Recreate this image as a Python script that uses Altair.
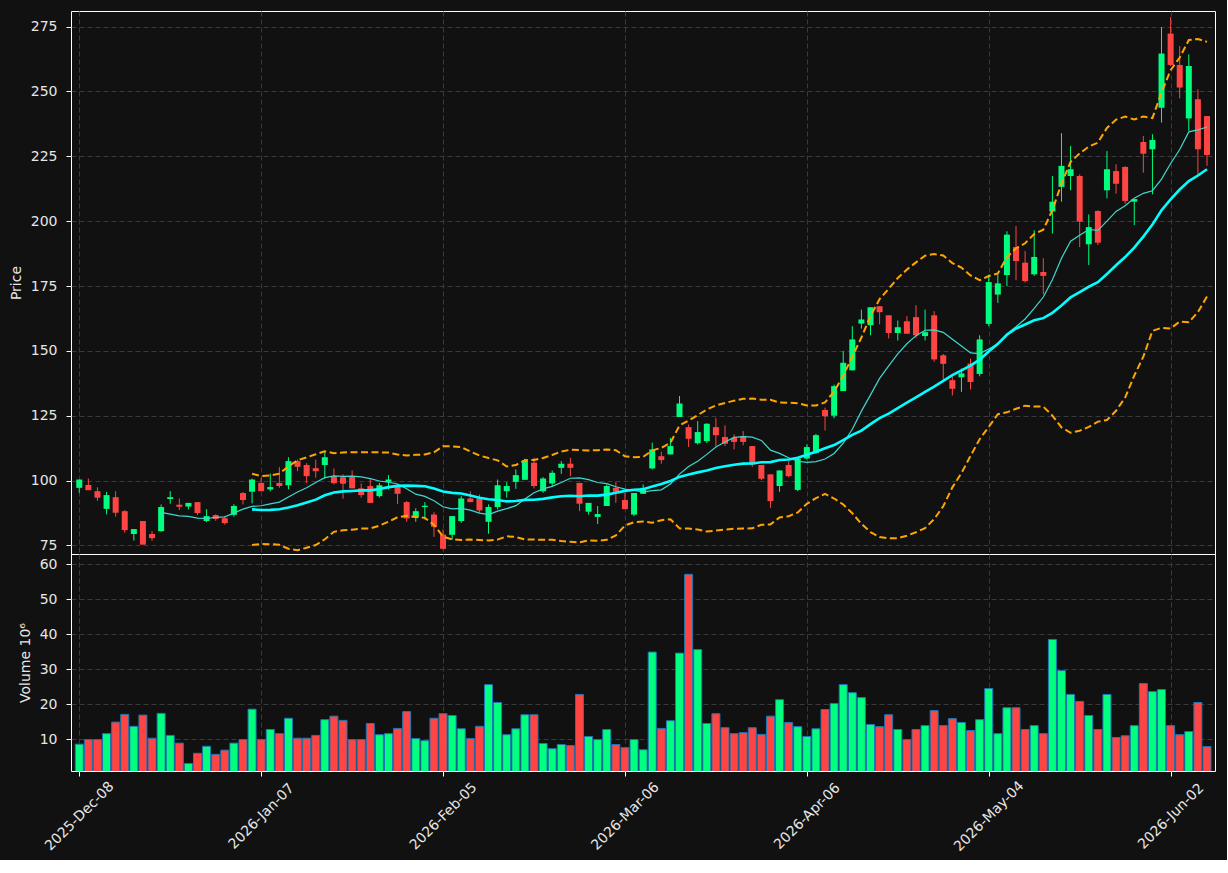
import altair as alt
import pandas as pd

tick_labels = ["2025-Dec-08", "2026-Jan-07", "2026-Feb-05", "2026-Mar-06",
               "2026-Apr-06", "2026-May-04", "2026-Jun-02"]
tick_positions = [0, 20, 40, 60, 80, 100, 120]

opens = [97.2, 98.3, 95.9, 89.1, 93.6, 88.2, 79.4, 84.4, 79.4, 80.5,
         92.9, 90.7, 90.0, 91.7, 84.4, 86.7, 85.5, 86.8, 95.2, 95.7,
         99.1, 96.6, 99.1, 98.2, 107.5, 106.0, 104.8, 106.0, 101.7, 101.3,
         101.7, 97.0, 97.9, 94.0, 99.5, 97.9, 91.7, 85.7, 89.8, 86.9,
         79.2, 79.1, 84.4, 93.1, 93.1, 84.1, 89.8, 95.9, 99.5, 100.3,
         106.9, 95.9, 98.9, 104.9, 106.5, 99.1, 88.0, 86.0, 90.2, 97.2,
         92.5, 86.9, 94.9, 104.7, 109.4, 110.1, 124.5, 120.6, 114.4, 115.2,
         120.6, 116.8, 116.5, 117.1, 113.3, 106.0, 102.4, 97.9, 106.0, 96.4,
         108.5, 110.7, 127.2, 125.0, 134.5, 142.5, 160.5, 159.9, 167.2, 163.7,
         156.9, 161.4, 163.0, 155.7, 163.7, 148.3, 138.7, 139.8, 145.1, 141.1,
         160.4, 171.7, 179.2, 190.0, 184.0, 179.5, 180.4, 203.7, 213.2, 217.4,
         217.4, 191.1, 203.9, 211.9, 219.3, 220.9, 207.5, 230.5, 227.7, 243.7,
         272.3, 260.2, 239.6, 247.0, 240.5]

closes = [100.4, 96.3, 93.4, 94.4, 87.6, 80.9, 81.3, 75.3, 77.8, 89.8,
          93.6, 89.9, 91.4, 87.5, 86.3, 85.2, 83.6, 90.2, 92.5, 100.4,
          95.9, 97.5, 97.9, 107.5, 105.3, 101.7, 103.6, 109.0, 99.0, 98.8,
          97.0, 94.4, 91.4, 98.2, 100.4, 94.9, 85.4, 88.2, 90.3, 82.2,
          73.7, 86.3, 93.1, 91.7, 88.5, 89.8, 98.2, 97.9, 102.1, 107.8,
          97.9, 100.8, 103.0, 106.5, 104.9, 91.1, 91.4, 87.1, 97.9, 95.7,
          89.0, 95.2, 97.2, 112.0, 107.9, 113.3, 129.7, 116.1, 118.7, 121.9,
          117.5, 114.2, 114.9, 114.9, 106.2, 100.7, 92.1, 103.9, 101.7, 108.5,
          112.9, 117.5, 124.8, 136.4, 145.4, 154.4, 162.1, 166.8, 164.9, 156.9,
          159.1, 156.6, 156.0, 157.2, 146.7, 145.0, 135.4, 141.3, 138.0, 154.4,
          176.5, 176.0, 194.8, 184.6, 176.9, 186.2, 178.9, 207.5, 221.3, 220.0,
          199.8, 197.7, 191.7, 220.0, 214.4, 207.8, 208.5, 226.0, 231.3, 264.6,
          260.2, 251.5, 259.8, 227.7, 225.5]

highs = [100.4, 100.8, 97.4, 95.6, 95.9, 88.6, 81.3, 84.4, 80.5, 90.8,
         95.9, 93.1, 91.4, 91.7, 89.0, 87.0, 86.3, 90.9, 95.6, 100.8,
         101.1, 102.7, 105.2, 109.0, 108.1, 106.7, 108.1, 111.1, 104.7, 102.4,
         103.9, 98.9, 100.8, 99.1, 102.1, 98.5, 92.1, 89.3, 91.7, 87.8,
         81.2, 86.3, 94.0, 95.9, 94.6, 90.8, 100.4, 99.4, 104.3, 108.4,
         108.8, 101.3, 103.9, 107.5, 108.8, 99.1, 91.4, 90.2, 98.5, 99.4,
         95.3, 95.2, 98.5, 114.6, 111.1, 116.5, 132.6, 121.6, 122.9, 122.1,
         124.2, 121.3, 117.8, 119.1, 113.3, 106.0, 102.4, 103.9, 107.5, 108.5,
         113.9, 118.0, 128.1, 137.0, 149.9, 159.5, 165.9, 166.8, 167.2, 163.7,
         161.7, 163.4, 167.6, 165.9, 165.3, 148.8, 140.2, 143.2, 147.0, 156.0,
         179.4, 179.7, 196.1, 198.1, 188.5, 196.5, 185.7, 217.4, 233.9, 229.0,
         218.0, 202.6, 204.2, 227.0, 221.9, 221.1, 208.5, 232.8, 233.5, 274.8,
         278.7, 267.5, 264.3, 250.8, 240.5]

lows = [95.3, 96.3, 92.2, 87.0, 86.1, 79.9, 76.9, 75.3, 76.8, 80.3,
        91.1, 88.6, 88.9, 86.7, 84.0, 84.5, 83.0, 86.1, 90.8, 91.2,
        95.9, 95.9, 97.2, 96.6, 103.6, 99.1, 101.1, 100.8, 98.5, 93.0,
        97.0, 93.4, 91.4, 93.4, 96.6, 91.0, 84.1, 84.1, 85.0, 78.3,
        73.4, 77.2, 83.7, 91.7, 87.6, 79.5, 88.9, 93.4, 96.8, 100.3,
        97.0, 95.3, 97.9, 102.6, 101.7, 88.2, 86.9, 83.3, 90.2, 91.4,
        89.0, 86.3, 94.9, 104.3, 106.5, 110.1, 124.5, 112.9, 113.9, 114.5,
        113.3, 113.3, 112.0, 113.6, 105.3, 100.2, 89.5, 95.7, 101.3, 95.9,
        108.1, 110.3, 119.3, 124.0, 134.5, 142.5, 158.6, 156.0, 160.2, 154.8,
        154.0, 156.6, 155.0, 154.0, 145.8, 139.0, 132.8, 134.2, 135.1, 140.2,
        159.5, 168.5, 174.9, 177.2, 176.3, 178.9, 171.8, 195.2, 207.5, 211.9,
        190.0, 183.1, 190.8, 208.8, 210.6, 206.7, 198.5, 218.7, 210.3, 238.0,
        259.8, 247.3, 234.8, 218.0, 221.3]

volumes = [8.6, 9.9, 9.9, 11.6, 14.9, 17.1, 13.7, 16.9, 10.3, 17.4,
           11.1, 8.9, 3.1, 6.0, 8.0, 5.7, 6.9, 8.9, 9.9, 18.6,
           9.9, 12.8, 11.6, 16.0, 10.3, 10.3, 11.1, 15.6, 16.6, 15.4,
           9.9, 9.9, 14.5, 11.3, 11.6, 13.1, 17.9, 10.2, 9.6, 16.0,
           17.3, 16.8, 13.0, 10.2, 13.7, 25.6, 20.5, 11.3, 13.0, 17.0,
           17.0, 8.8, 7.3, 8.5, 8.2, 22.8, 10.8, 9.9, 12.8, 8.5,
           7.6, 9.9, 7.0, 34.9, 13.1, 15.3, 34.6, 57.1, 35.6, 14.5,
           17.3, 13.3, 11.6, 11.9, 13.3, 11.4, 16.6, 21.3, 14.8, 13.6,
           10.8, 13.0, 18.5, 20.2, 25.6, 23.3, 21.9, 14.2, 13.6, 17.0,
           12.8, 9.9, 12.8, 13.9, 18.2, 13.9, 15.9, 14.8, 12.5, 15.6,
           24.5, 11.6, 19.0, 19.0, 12.8, 13.9, 11.6, 38.5, 29.6, 22.8,
           20.8, 16.8, 12.8, 22.8, 10.5, 11.0, 13.9, 25.9, 23.6, 24.2,
           13.9, 11.3, 12.2, 20.5, 7.9]

UP = "#00ff7f"
DOWN = "#ff4444"
TEXT = "#e6e6e6"
FONT = "DejaVu Sans"

df = pd.DataFrame({
    "idx": list(range(len(opens))),
    "open": opens, "high": highs, "low": lows, "close": closes,
    "volume": volumes,
})

xdom = [-0.36, 124.33]
label_expr = "[" + ",".join("'%s'" % t for t in tick_labels) + "][round(datum.value/20)]"

color_cond = alt.condition("datum.close >= datum.open", alt.value(UP), alt.value(DOWN))

x_price = alt.X("idx:Q", scale=alt.Scale(domain=xdom, nice=False, zero=False),
                axis=alt.Axis(values=tick_positions, labels=False, ticks=False,
                              domain=False, title=None, grid=True,
                              minExtent=0, maxExtent=0))
y_scale = alt.Scale(domain=[71.7, 281.0], nice=False, zero=False)
y_axis = alt.Axis(values=[75, 100, 125, 150, 175, 200, 225, 250, 275],
                  title="Price", grid=True)

base = alt.Chart(df)

wicks = base.mark_rule(strokeWidth=1, clip=True).encode(
    x=x_price,
    y=alt.Y("low:Q", scale=y_scale, axis=y_axis),
    y2="high:Q",
    color=color_cond,
)
bodies = base.mark_bar(size=6, clip=True).encode(
    x=alt.X("idx:Q"),
    y=alt.Y("open:Q"),
    y2="close:Q",
    color=color_cond,
)

ma10 = base.transform_window(
    ma10="mean(close)", n10="count()", frame=[-9, 0], sort=[alt.SortField("idx")]
).transform_filter("datum.n10 >= 10").mark_line(
    color="#40d8cc", strokeWidth=1.2, clip=True
).encode(x="idx:Q", y="ma10:Q")

roll20 = base.transform_window(
    ma20="mean(close)", sd20="stdev(close)", n20="count()",
    frame=[-19, 0], sort=[alt.SortField("idx")]
).transform_filter("datum.n20 >= 20").transform_calculate(
    upper="datum.ma20 + 2*datum.sd20", lower="datum.ma20 - 2*datum.sd20"
)

ma20 = roll20.mark_line(color="#00ffff", strokeWidth=2.6, clip=True).encode(
    x="idx:Q", y="ma20:Q")
upper = roll20.mark_line(color="#ffa500", strokeWidth=2, strokeDash=[7, 3.5],
                         clip=True).encode(x="idx:Q", y="upper:Q")
lower = roll20.mark_line(color="#ffa500", strokeWidth=2, strokeDash=[7, 3.5],
                         clip=True).encode(x="idx:Q", y="lower:Q")

price = alt.layer(wicks, bodies, ma10, ma20, upper, lower).properties(
    width=1144, height=543)

vol = base.mark_bar(size=8, stroke="#1f77b4", strokeWidth=1, clip=True).encode(
    x=alt.X("idx:Q", scale=alt.Scale(domain=xdom, nice=False, zero=False),
            axis=alt.Axis(values=tick_positions, labelExpr=label_expr,
                          labelAngle=-45, labelAlign="center",
                          labelBaseline="middle", labelPadding=40,
                          title=None, grid=True)),
    y=alt.Y("volume:Q", scale=alt.Scale(domain=[0.94, 62.9], nice=False, zero=False),
            axis=alt.Axis(values=[10, 20, 30, 40, 50, 60], title="Volume  10⁶",
                          grid=True)),
    color=color_cond,
).properties(width=1144, height=217)

chart = alt.vconcat(price, vol, spacing=0, bounds="flush").properties(
    background="#111111",
    padding={"left": 8, "top": 10, "right": 11, "bottom": 5},
).configure_view(
    stroke="#ffffff", strokeWidth=1
).configure_axis(
    domain=False,
    tickColor="#ffffff", tickSize=5, tickWidth=1,
    labelColor=TEXT, labelFont=FONT, labelFontSize=14, labelPadding=9,
    titleColor=TEXT, titleFont=FONT, titleFontSize=14, titleFontWeight="normal",
    titlePadding=7,
    gridColor="#3a3a3a", gridDash=[5, 3], gridWidth=1,
)

chart.save("out.html", embed_options={"renderer": "svg", "actions": False})
